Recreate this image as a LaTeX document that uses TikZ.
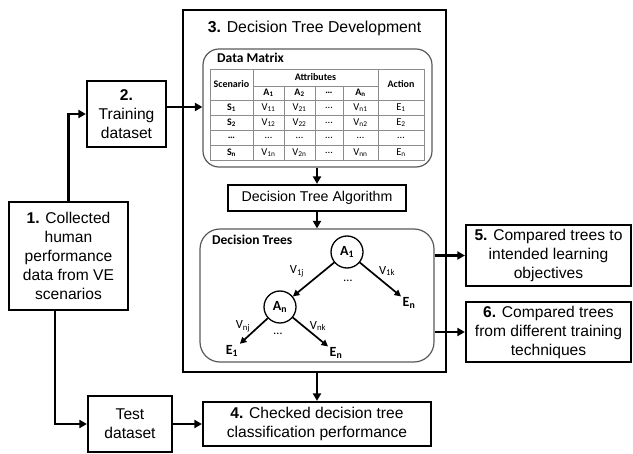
\documentclass[tikz,border=0pt]{standalone}
\usepackage{fontspec}
\setmainfont{Liberation Sans}
\newfontfamily\calfont{Carlito}
\usetikzlibrary{arrows.meta}

\newcommand\boxfont{\fontsize{15.6bp}{19bp}\selectfont}
\newcommand\sbs[1]{\textsubscript{#1}}

\tikzset{
  arr/.style={line width=2.2bp, -{Triangle[length=7.5bp,width=8bp]}},
  tarr/.style={line width=1.7bp, -{Triangle[length=6.5bp,width=6.5bp]}},
  box/.style={draw, line width=2.2bp, align=center, inner sep=0pt, font=\boxfont},
  panel/.style={draw=black!65, line width=1.2bp, rounded corners=16bp, inner sep=0pt},
  grid/.style={draw=black!45, line width=0.8bp},
  hd/.style={font=\calfont\bfseries\fontsize{10bp}{11bp}\selectfont, inner sep=0pt},
  val/.style={font=\calfont\fontsize{10.5bp}{11bp}\selectfont, inner sep=0pt},
  tnode/.style={font=\calfont\bfseries\fontsize{14bp}{15bp}\selectfont, inner sep=1.5bp},
  tlab/.style={font=\calfont\fontsize{12.5bp}{13bp}\selectfont, inner sep=0pt},
  ttl/.style={font=\calfont\bfseries\fontsize{13.5bp}{14bp}\selectfont, inner sep=0pt, anchor=base west}
}

\begin{document}
\begin{tikzpicture}[x=1bp,y=-1bp]
\useasboundingbox (0,0) rectangle (633,454);

% outer frame of stage 3
\node[draw, line width=2.8bp, minimum width=263bp, minimum height=362bp, inner sep=0pt] (dev) at (314.5,191) {};
\node[font=\fontsize{15.8bp}{19bp}\selectfont, anchor=base] (devtitle) at (314.5,33) {\textbf{3.} Decision Tree Development};

% left-hand stages
\node[box, minimum width=119bp, minimum height=108bp] (b1) at (68.5,256) {\textbf{1.} Collected\\human\\performance\\data from VE\\scenarios};
\node[box, minimum width=79bp, minimum height=66bp] (train) at (126.5,114) {\textbf{2.}\\Training\\dataset};
\node[box, minimum width=84bp, minimum height=56bp] (test) at (130,424) {Test\\dataset};
\node[box, minimum width=228bp, minimum height=44bp] (b4) at (317,424) {\textbf{4.} Checked decision tree\\classification performance};
\node[box, minimum width=165bp, minimum height=61bp] (b5) at (548.5,255.5) {\textbf{5.} Compared trees to\\intended learning\\objectives};
\node[box, minimum width=165bp, minimum height=60bp] (b6) at (548.5,332) {\textbf{6.} Compared trees\\from different training\\techniques};

% data matrix panel
\node[panel, minimum width=229bp, minimum height=118bp] (dm) at (317.5,108) {};
\node[ttl] (dmtitle) at (217,63) {Data Matrix};

% table rules
\draw[grid] (210,69) rectangle (424,160);
\draw[grid] (253,86) -- (378,86);
\draw[grid] (210,100) -- (424,100);
\foreach \yy in {115,130,145} \draw[grid] (210,\yy) -- (424,\yy);
\draw[grid] (253,69) -- (253,160);
\draw[grid] (378,69) -- (378,160);
\foreach \xx in {284,315,343} \draw[grid] (\xx,86) -- (\xx,160);

% table header
\node[hd] (hscen) at (231.5,84.5) {Scenario};
\node[hd] (hattr) at (315.5,77.5) {Attributes};
\node[hd] (hact) at (401,84.5) {Action};
\node[hd] (ha1) at (268.5,93) {A\sbs{1}};
\node[hd] (ha2) at (299.5,93) {A\sbs{2}};
\node[hd] (had) at (329,93) {…};
\node[hd] (han) at (360.5,93) {A\sbs{n}};

% table body
\node[hd] at (231.5,107.5) {S\sbs{1}};
\node[val] at (268.5,107.5) {V\sbs{11}};
\node[val] at (299.5,107.5) {V\sbs{21}};
\node[val] at (329,107.5) {…};
\node[val] at (360.5,107.5) {V\sbs{n1}};
\node[val] at (401,107.5) {E\sbs{1}};

\node[hd] at (231.5,122.5) {S\sbs{2}};
\node[val] at (268.5,122.5) {V\sbs{12}};
\node[val] at (299.5,122.5) {V\sbs{22}};
\node[val] at (329,122.5) {…};
\node[val] at (360.5,122.5) {V\sbs{n2}};
\node[val] at (401,122.5) {E\sbs{2}};

\node[hd] at (231.5,137.5) {…};
\foreach \xx in {268.5,299.5,329,360.5,401} \node[val] at (\xx,137.5) {…};

\node[hd] at (231.5,152.5) {S\sbs{n}};
\node[val] at (268.5,152.5) {V\sbs{1n}};
\node[val] at (299.5,152.5) {V\sbs{2n}};
\node[val] at (329,152.5) {…};
\node[val] at (360.5,152.5) {V\sbs{nn}};
\node[val] at (401,152.5) {E\sbs{n}};

% algorithm box
\node[draw, line width=2.2bp, minimum width=178bp, minimum height=26bp, inner sep=0pt,
      font=\fontsize{14.2bp}{16bp}\selectfont] (algo) at (317,198) {Decision Tree Algorithm};

% decision trees panel
\node[panel, rounded corners=20bp, minimum width=234bp, minimum height=133bp] (dt) at (317,295.5) {};
\node[ttl] (dttitle) at (212,245) {Decision Trees};

% example tree
\node[tnode, draw, circle, line width=1.3bp, minimum size=32bp, inner sep=0pt] (a1) at (347,252) {A\sbs{1}};
\node[tnode, draw, circle, line width=1.3bp, minimum size=32bp, inner sep=0pt] (an) at (280,307) {A\sbs{n}};
\node[tnode] (enr) at (409,303) {E\sbs{n}};
\node[tnode] (e1) at (232,351) {E\sbs{1}};
\node[tnode] (enb) at (336,353) {E\sbs{n}};
\draw[tarr] (a1) -- (an);
\draw[tarr] (a1) -- (enr);
\draw[tarr] (an) -- (e1);
\draw[tarr] (an) -- (enb);
\node[tlab] (v1j) at (297,271) {V\sbs{1j}};
\node[tlab] (v1k) at (387,271) {V\sbs{1k}};
\node[tlab] (d1) at (348,281) {…};
\node[tlab] (vnj) at (243,326) {V\sbs{nj}};
\node[tlab] (vnk) at (318,326) {V\sbs{nk}};
\node[tlab] (d2) at (278,334) {…};

% connectors
\draw[arr] (b1.north) |- (train.west);
\draw[arr] ([yshift=7bp]train.east) -- ([yshift=7bp]train.east -| dm.west);
\draw[arr] ([xshift=-13.5bp]b1.south) |- (test.west);
\draw[arr] (test.east) -- (b4.west);
\draw[arr] (dev.south -| b4.north) -- (b4.north);
\draw[arr] (dm.south -| algo.north) -- (algo.north);
\draw[arr] (algo.south) -- (algo.south |- dt.north);
\draw[arr] (b5.west -| dt.east) -- (b5.west);
\draw[arr] (b6.west -| dt.east) -- (b6.west);
\end{tikzpicture}
\end{document}
